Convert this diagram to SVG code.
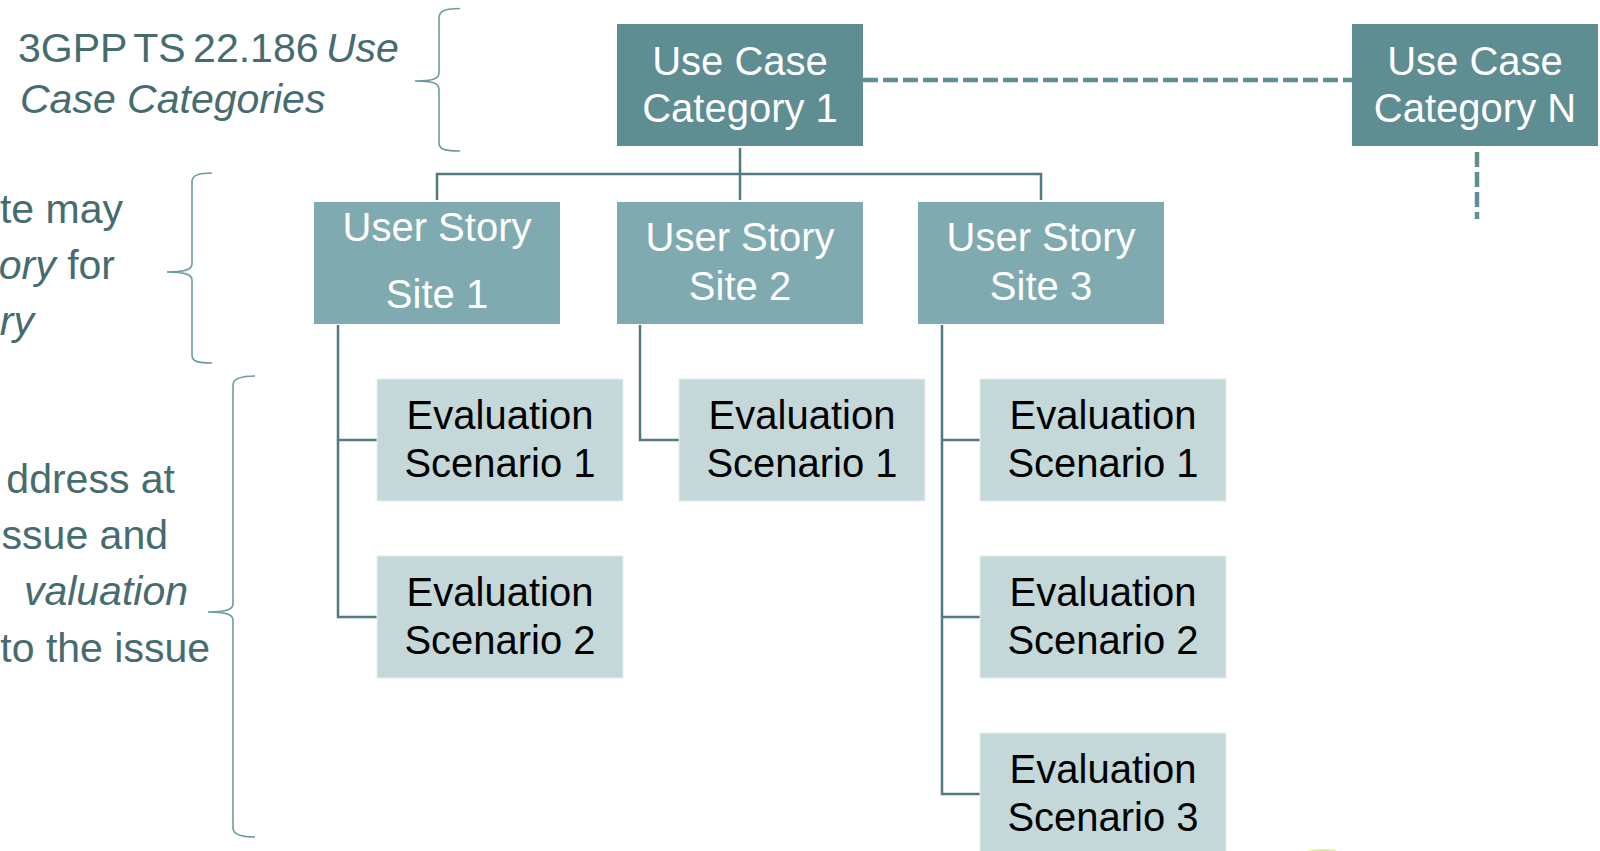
<svg xmlns="http://www.w3.org/2000/svg" width="1600" height="851" viewBox="0 0 1600 851">
<style>
.cat{fill:#5e8d92}
.us{fill:#7faaaf}
.ev{fill:#c4d8da;stroke:#e4eeee;stroke-width:1}
.wt{font-family:"Liberation Sans",Arial,sans-serif;font-size:40px;fill:#ffffff;text-anchor:middle}
.bt{font-family:"Liberation Sans",Arial,sans-serif;font-size:40px;fill:#000000;text-anchor:middle}
.lt{font-family:"Liberation Sans",Arial,sans-serif;font-size:41px;fill:#466c70}
.conn{fill:none;stroke:#527a7f;stroke-width:2.5}
.dash{fill:none;stroke:#5f8f94;stroke-width:4.5;stroke-dasharray:15 5}
.brace{fill:none;stroke:#6d9ca0;stroke-width:1.6}
</style>
<rect width="1600" height="851" fill="#ffffff"/>

<g id="annotations">
<path class="brace" d="M460,8.5 C447,8.5 439,10 439,18 L439,73 C439,79 432,81 415,81 C432,81 439,83 439,89 L439,143 C439,150 447,151 460,151"/>
<path class="brace" d="M212,173 C199,173 192,175 192,182 L192,264 C192,270 184,272 167,272 C184,272 192,274 192,280 L192,355 C192,362 199,363 212,363"/>
<path class="brace" d="M255,376 C242,376 233,378 233,385 L233,604 C233,610 225,612 208,612 C225,612 233,614 233,620 L233,828 C233,835 242,837 255,837"/>
<text class="lt" x="18" y="62" word-spacing="-4">3GPP TS 22.186 <tspan font-style="italic">Use</tspan></text>
<text class="lt" x="20" y="113" font-style="italic">Case Categories</text>
<text class="lt" x="123" y="223" text-anchor="end">te may</text>
<text class="lt" x="115" y="279" text-anchor="end"><tspan font-style="italic">ory</tspan> for</text>
<text class="lt" x="34" y="335" text-anchor="end" font-style="italic">ry</text>
<text class="lt" x="175" y="493" text-anchor="end">ddress at</text>
<text class="lt" x="168" y="549" text-anchor="end">ssue and</text>
<text class="lt" x="188" y="605" text-anchor="end" font-style="italic">valuation</text>
<text class="lt" x="210" y="662" text-anchor="end">to the issue</text>
</g>

<g id="connectors">
<path class="dash" d="M863,80 H1352"/>
<path class="dash" d="M1477,152 V219"/>
<path class="conn" d="M740,148 V200 M437,200 V174 H1041 V200"/>
<path class="conn" d="M338,325 V617 H377 M338,440 H377"/>
<path class="conn" d="M640,325 V440 H679"/>
<path class="conn" d="M942,325 V794 H980 M942,440 H980 M942,617 H980"/>
</g>

<g id="cat1"><rect class="cat" x="617" y="24" width="246" height="122"/>
<text class="wt" x="740" y="75">Use Case</text><text class="wt" x="740" y="122">Category 1</text></g>
<g id="catN"><rect class="cat" x="1352" y="24" width="246" height="122"/>
<text class="wt" x="1475" y="75">Use Case</text><text class="wt" x="1475" y="122">Category N</text></g>

<g id="site1"><rect class="us" x="314" y="202" width="246" height="122"/>
<text class="wt" x="437" y="241">User Story</text><text class="wt" x="437" y="308">Site 1</text></g>
<g id="site2"><rect class="us" x="617" y="202" width="246" height="122"/>
<text class="wt" x="740" y="251">User Story</text><text class="wt" x="740" y="300">Site 2</text></g>
<g id="site3"><rect class="us" x="918" y="202" width="246" height="122"/>
<text class="wt" x="1041" y="251">User Story</text><text class="wt" x="1041" y="300">Site 3</text></g>

<g id="s1e1"><rect class="ev" x="377" y="379" width="246" height="122"/>
<text class="bt" x="500" y="429">Evaluation</text><text class="bt" x="500" y="477">Scenario 1</text></g>
<g id="s1e2"><rect class="ev" x="377" y="556" width="246" height="122"/>
<text class="bt" x="500" y="606">Evaluation</text><text class="bt" x="500" y="654">Scenario 2</text></g>
<g id="s2e1"><rect class="ev" x="679" y="379" width="246" height="122"/>
<text class="bt" x="802" y="429">Evaluation</text><text class="bt" x="802" y="477">Scenario 1</text></g>
<g id="s3e1"><rect class="ev" x="980" y="379" width="246" height="122"/>
<text class="bt" x="1103" y="429">Evaluation</text><text class="bt" x="1103" y="477">Scenario 1</text></g>
<g id="s3e2"><rect class="ev" x="980" y="556" width="246" height="122"/>
<text class="bt" x="1103" y="606">Evaluation</text><text class="bt" x="1103" y="654">Scenario 2</text></g>
<g id="s3e3"><rect class="ev" x="980" y="733" width="246" height="122"/>
<text class="bt" x="1103" y="783">Evaluation</text><text class="bt" x="1103" y="831">Scenario 3</text></g>

<ellipse cx="1323" cy="856" rx="22" ry="7" fill="#d6e86a" opacity="0.8"/>
</svg>
